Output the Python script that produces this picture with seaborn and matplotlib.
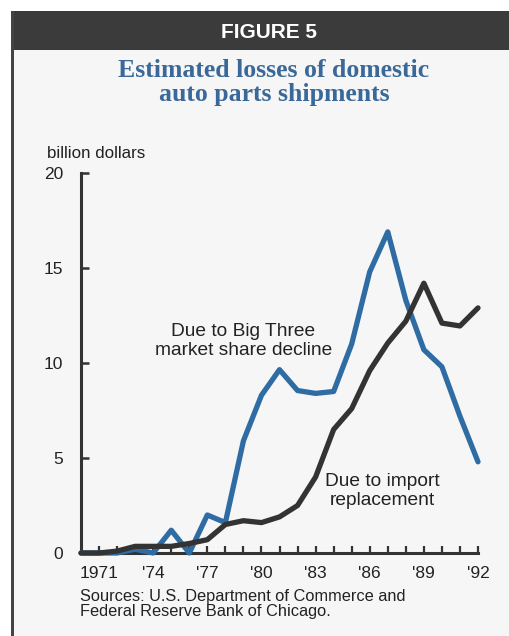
import matplotlib
matplotlib.use("Agg")
import matplotlib.pyplot as plt
import seaborn as sns
import pandas as pd
from matplotlib.patches import Rectangle

# data (billion dollars)
years = list(range(1970, 1993))
big_three = [0.0, 0.0, 0.0, 0.2, 0.0, 1.2, 0.0, 2.0, 1.6, 5.9, 8.3, 9.65,
             8.55, 8.4, 8.5, 11.0, 14.8, 16.9, 13.3, 10.7, 9.8, 7.2, 4.8]
import_repl = [0.0, 0.0, 0.1, 0.35, 0.35, 0.35, 0.5, 0.7, 1.5, 1.7, 1.6, 1.9,
               2.5, 4.0, 6.5, 7.6, 9.6, 11.05, 12.2, 14.2, 12.1, 11.95, 12.9]
label_years = [1971, 1974, 1977, 1980, 1983, 1986, 1989, 1992]
label_text = ["1971", "'74", "'77", "'80", "'83", "'86", "'89", "'92"]
y_ticks = [0, 5, 10, 15, 20]

bg = "#f5f6f5"
blue = "#2f6ca3"
dark = "#333333"
txt = "#222222"

sns.set_style("white")
plt.rcParams["font.family"] = ["Liberation Sans", "DejaVu Sans"]

df = pd.DataFrame({"year": years, "big": big_three, "imp": import_repl})

fig = plt.figure(figsize=(5.09, 6.36), dpi=100, facecolor=bg)
W, H = 509, 636

# header bar and left frame line
fig.patches.append(Rectangle((13 / W, 1 - 50 / H), 1, 39 / H, transform=fig.transFigure,
                             facecolor="#3b3b3b", edgecolor="none", zorder=0))
fig.patches.append(Rectangle((11 / W, 0), 3 / W, 1 - 11 / H, transform=fig.transFigure,
                             facecolor="#444444", edgecolor="none", zorder=0))
fig.patches.append(Rectangle((0, 1 - 11 / H), 1, 11 / H, transform=fig.transFigure,
                             facecolor="white", edgecolor="none", zorder=0))
fig.patches.append(Rectangle((0, 0), 11 / W, 1, transform=fig.transFigure,
                             facecolor="white", edgecolor="none", zorder=0))

fig.text(269 / W, 1 - 33 / H, "FIGURE 5", color="white", fontsize=15,
         fontweight="bold", ha="center", va="center")
fig.text(274 / W, 1 - 77 / H, "Estimated losses of domestic", color="#3a6898",
         fontsize=18.5, fontweight="bold", ha="center", va="baseline",
         family=["Liberation Serif", "DejaVu Serif"])
fig.text(274 / W, 1 - 101 / H, "auto parts shipments", color="#3a6898",
         fontsize=18.5, fontweight="bold", ha="center", va="baseline",
         family=["Liberation Serif", "DejaVu Serif"])

ax = fig.add_axes([81 / W, 1 - 553 / H, (478 - 81) / W, (553 - 173) / H])
ax.set_facecolor(bg)

sns.lineplot(data=df, x="year", y="big", ax=ax, color=blue, linewidth=3.8,
             clip_on=False, zorder=3)
sns.lineplot(data=df, x="year", y="imp", ax=ax, color=dark, linewidth=3.8,
             clip_on=False, zorder=4)

ax.set_xlim(1970, 1992)
ax.set_ylim(0, 20)
ax.set_xlabel("")
ax.set_ylabel("")

ax.set_xticks(years[1:])
ax.set_xticklabels([label_text[label_years.index(y)] if y in label_years else ""
                    for y in years[1:]])
ax.set_yticks(y_ticks)
ax.set_yticklabels([str(v) for v in y_ticks])

for side in ["top", "right"]:
    ax.spines[side].set_visible(False)
for side in ["left", "bottom"]:
    ax.spines[side].set_linewidth(2.2)
    ax.spines[side].set_color(dark)

ax.tick_params(axis="x", bottom=True, direction="in", length=5, width=1.6, color=dark,
               labelsize=12.5, labelcolor=txt, pad=9)
ax.tick_params(axis="y", left=True, direction="in", length=6, width=1.8, color=dark,
               labelsize=12.5, labelcolor=txt, pad=13)
ax.yaxis.get_major_ticks()[0].tick1line.set_visible(False)

fig.text(47 / W, 1 - 153 / H, "billion dollars", fontsize=12.2, color=txt,
         ha="left", va="center")

ax.text(1979.0, 11.15, "Due to Big Three\nmarket share decline", fontsize=13.8,
        color=txt, ha="center", va="center", linespacing=1.12)
ax.text(1986.7, 3.25, "Due to import\nreplacement", fontsize=13.8,
        color=txt, ha="center", va="center", linespacing=1.12)

fig.text(80 / W, 1 - 604 / H, "Sources: U.S. Department of Commerce and\nFederal Reserve Bank of Chicago.",
         fontsize=11.8, color=txt, ha="left", va="center", linespacing=1.08)

fig.savefig("out.png", dpi=100, facecolor=bg)
